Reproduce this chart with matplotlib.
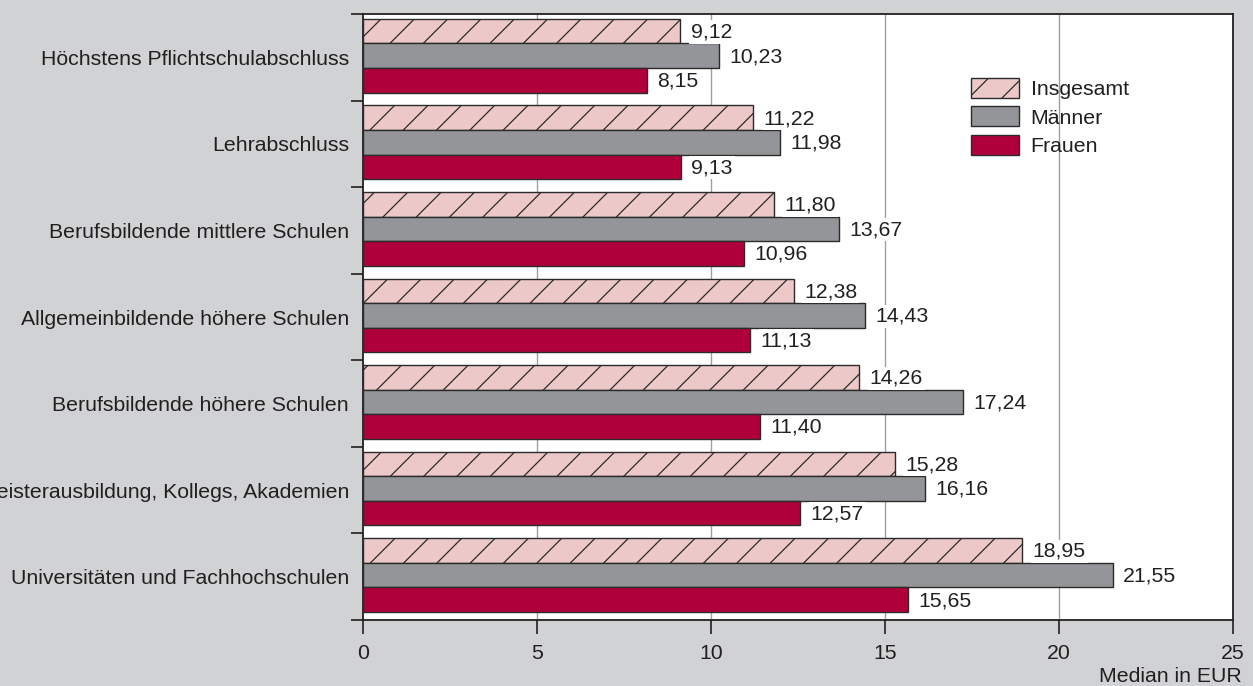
import numpy as np
import matplotlib.pyplot as plt
from matplotlib.patches import Patch

plt.rcParams['font.family'] = ['Liberation Sans', 'DejaVu Sans']
plt.rcParams['hatch.linewidth'] = 0.9
plt.rcParams['hatch.color'] = '#3a3a3a'

# Bruttostundenverdienste (Median) nach Bildungsabschluss
kategorien = [
    "Höchstens Pflichtschulabschluss",
    "Lehrabschluss",
    "Berufsbildende mittlere Schulen",
    "Allgemeinbildende höhere Schulen",
    "Berufsbildende höhere Schulen",
    "Meisterausbildung, Kollegs, Akademien",
    "Universitäten und Fachhochschulen",
]
insgesamt = [9.12, 11.22, 11.80, 12.38, 14.26, 15.28, 18.95]
maenner = [10.23, 11.98, 13.67, 14.43, 17.24, 16.16, 21.55]
frauen = [8.15, 9.13, 10.96, 11.13, 11.40, 12.57, 15.65]
serien = ["Insgesamt", "Männer", "Frauen"]

bg = '#d1d2d4'
tc = '#231f20'
farben = ['#ecc9c8', '#939598', '#b0003c']
fs = 15.3

fig = plt.figure(figsize=(12.53, 6.86), dpi=100, facecolor=bg)
ax = fig.add_axes([0.2897, 0.0962, 0.6943, 0.8834])
ax.set_facecolor('white')

y = np.arange(len(kategorien))
h = 0.283
offs = [-0.302, -0.018, 0.266]

for werte, off, farbe, name in zip([insgesamt, maenner, frauen], offs, farben, serien):
    bars = ax.barh(y + off, werte, height=h, color=farbe, edgecolor='#2b2b2b',
                   linewidth=1.0, hatch='/' if name == "Insgesamt" else None,
                   zorder=3)
    for b, v in zip(bars, werte):
        ax.text(v + 0.3, b.get_y() + b.get_height() / 2 + 0.01,
                f"{v:.2f}".replace('.', ','), va='center', ha='left',
                fontsize=fs, color=tc, zorder=5,
                bbox=dict(facecolor='white', edgecolor='none', pad=1.5))

ax.set_xlim(0, 25)
ax.set_ylim(len(kategorien) - 0.5, -0.5)
ax.set_xticks(range(0, 26, 5))
ax.tick_params(axis='x', direction='out', length=10, width=1.2, colors=tc,
               labelsize=fs, pad=7)
ax.set_yticks(np.arange(-0.5, len(kategorien), 1.0))
ax.set_yticks(y, minor=True)
ax.set_yticklabels([], minor=False)
ax.set_yticklabels(kategorien, minor=True)
ax.tick_params(axis='y', which='major', direction='out', length=9, width=1.2, colors=tc)
ax.tick_params(axis='y', which='minor', length=0, pad=10, labelsize=fs, labelcolor=tc)

for gx in [5, 10, 15, 20]:
    ax.axvline(gx, color='#a0a0a0', linewidth=1.0, zorder=1)

for s in ax.spines.values():
    s.set_color('#231f20')
    s.set_linewidth(1.3)

ax.text(1.01, -0.078, "Median in EUR", transform=ax.transAxes, ha='right',
        va='top', fontsize=fs, color=tc)

handles = [Patch(facecolor=farben[0], edgecolor='#2b2b2b', hatch='/'),
           Patch(facecolor=farben[1], edgecolor='#2b2b2b'),
           Patch(facecolor=farben[2], edgecolor='#2b2b2b')]
ax.legend(handles, serien, loc='upper left', bbox_to_anchor=(0.699, 0.894),
          frameon=False, fontsize=fs, handlelength=2.25, handleheight=1.07,
          labelspacing=0.33, handletextpad=0.55, borderpad=0, borderaxespad=0,
          labelcolor=tc)

fig.savefig('out.png', dpi=100, facecolor=bg)
